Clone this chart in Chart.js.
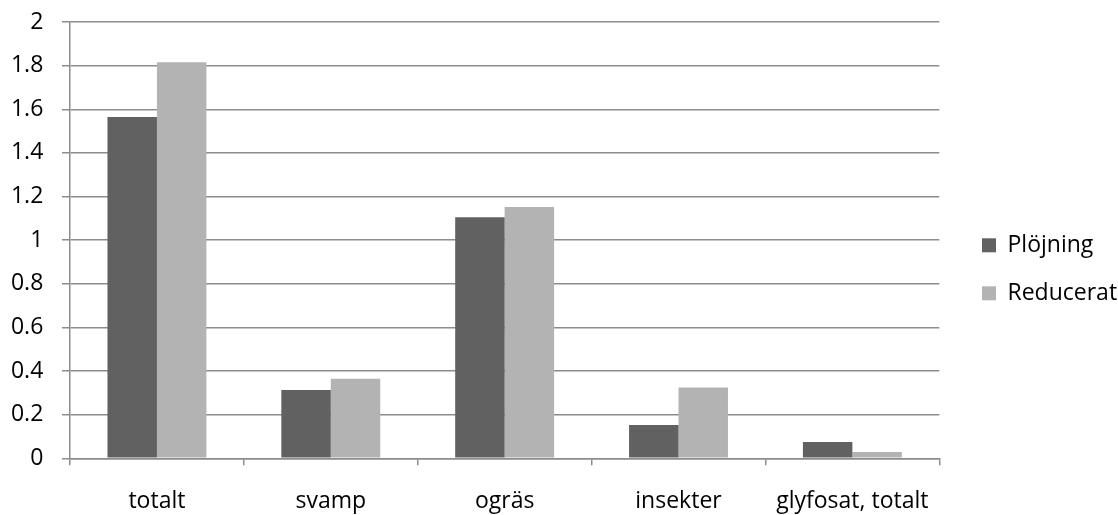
<!DOCTYPE html>
<html>
<head>
<meta charset="utf-8">
<script src="https://cdn.jsdelivr.net/npm/chart.js@4/dist/chart.umd.min.js"></script>
<style>
  html, body { margin: 0; padding: 0; background: #ffffff; }
  #wrap { width: 1118px; height: 515px; }
</style>
</head>
<body>
<div id="wrap"><canvas id="c" width="1118" height="515"></canvas></div>
<script>
const categories = ['totalt', 'svamp', 'ogräs', 'insekter', 'glyfosat, totalt'];
const seriesNames = ['Plöjning', 'Reducerat'];
const plojning = [1.565, 0.313, 1.105, 0.153, 0.075];
const reducerat = [1.815, 0.365, 1.152, 0.324, 0.029];
const yTickLabels = ['0', '0.2', '0.4', '0.6', '0.8', '1', '1.2', '1.4', '1.6', '1.8', '2'];

const FONT_FAMILY = "'Open Sans', sans-serif";
const FONT_SIZE = 23;
const GRID_COLOR = '#8c8c8c';
const LEGEND_PAD = 25;
const BOX = 14;

// Pre-measure legend text so the legend sits where the reference puts it.
const mctx = document.createElement('canvas').getContext('2d');
mctx.font = FONT_SIZE + 'px ' + FONT_FAMILY;
const maxTextW = Math.max(...seriesNames.map(s => mctx.measureText(s).width));
const legendWidth = LEGEND_PAD + BOX + FONT_SIZE / 2 + maxTextW + 10;
const legendLeft = 982 - LEGEND_PAD;
const plotRight = 939.3;
const plotBottom = 458.3;
const padRight = 1118 - legendLeft - legendWidth; // may be slightly negative (legend's built-in right margin)

new Chart(document.getElementById('c'), {
  type: 'bar',
  data: {
    labels: categories,
    datasets: [
      { label: seriesNames[0], data: plojning, backgroundColor: '#616161', borderWidth: 0,
        categoryPercentage: 0.569, barPercentage: 1.0 },
      { label: seriesNames[1], data: reducerat, backgroundColor: '#b3b3b3', borderWidth: 0,
        categoryPercentage: 0.569, barPercentage: 1.0 }
    ]
  },
  options: {
    responsive: false,
    animation: false,
    devicePixelRatio: 1,
    layout: { padding: { left: 0, top: 22, bottom: 0, right: padRight } },
    plugins: {
      tooltip: { enabled: false },
      legend: {
        position: 'right',
        align: 'center',
        title: { display: true, text: ' ', font: { size: 1 }, padding: { top: 0.4, bottom: 0 } },
        labels: {
          boxWidth: BOX,
          boxHeight: BOX,
          padding: LEGEND_PAD,
          color: '#000000',
          font: { family: FONT_FAMILY, size: FONT_SIZE }
        }
      }
    },
    scales: {
      x: {
        afterFit: s => { s.height = 515 - plotBottom; },
        grid: {
          offset: true,
          drawOnChartArea: false,
          drawTicks: true,
          tickLength: 7,
          color: GRID_COLOR,
          lineWidth: 1.5
        },
        border: { display: true, color: GRID_COLOR, width: 1.5 },
        ticks: {
          color: '#000000',
          padding: 22.5,
          maxRotation: 0,
          autoSkip: false,
          font: { family: FONT_FAMILY, size: FONT_SIZE }
        }
      },
      y: {
        min: 0,
        max: 2,
        afterFit: s => { s.width = 70; s.paddingTop = 0; s.paddingBottom = 0; },
        grid: {
          color: GRID_COLOR,
          lineWidth: 1.5,
          drawTicks: true,
          tickLength: 8
        },
        border: { display: true, color: GRID_COLOR, width: 1.5 },
        ticks: {
          stepSize: 0.2,
          color: '#000000',
          padding: 18.7,
          font: { family: FONT_FAMILY, size: FONT_SIZE },
          callback: (value, index) => yTickLabels[index] !== undefined ? yTickLabels[index] : value
        }
      },
      gap: {
        type: 'linear',
        position: 'right',
        display: true,
        grid: { display: false, drawTicks: false },
        border: { display: false },
        ticks: { display: false },
        afterFit: s => { s.width = legendLeft - plotRight; s.paddingTop = 0; s.paddingBottom = 0; }
      }
    }
  }
});
</script>
</body>
</html>
